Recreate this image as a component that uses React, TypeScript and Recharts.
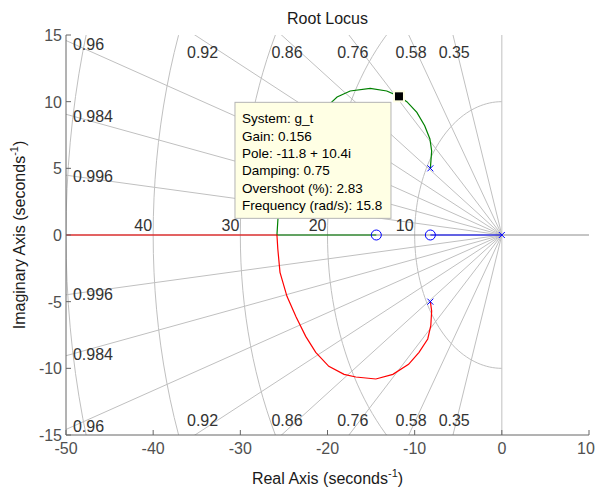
import React from "react";
import { ComposedChart, Line, Scatter, XAxis, YAxis } from "recharts";

const realTicks = [-50, -40, -30, -20, -10, 0, 10];
const imagTicks = [-15, -10, -5, 0, 5, 10, 15];

// sgrid values
const dampingRatios = [0.35, 0.58, 0.76, 0.86, 0.92, 0.96, 0.984, 0.996];
const naturalFreqs = [10, 20, 30, 40, 50];
const labeledFreqs = [10, 20, 30, 40];

const poles = [
  { x: 0, y: 0 },
  { x: -8.2, y: 5 },
  { x: -8.2, y: -5 },
];
const zeros = [
  { x: -8.2, y: 0 },
  { x: -14.4, y: 0 },
];

// green branch (upper complex pole -> break-in -> zero at -14.4)
const upperBranch = [
  { x: -8.2, y: 5.0 }, { x: -8.05, y: 6.3 }, { x: -8.25, y: 7.2 }, { x: -8.85, y: 8.2 },
  { x: -9.75, y: 9.2 }, { x: -10.9, y: 10.0 }, { x: -11.8, y: 10.4 }, { x: -13.2, y: 10.8 },
  { x: -15.1, y: 11.0 }, { x: -17.4, y: 10.8 }, { x: -18.9, y: 10.35 }, { x: -19.8, y: 9.8 },
  { x: -21.3, y: 8.8 }, { x: -22.5, y: 7.6 }, { x: -23.6, y: 6.15 }, { x: -24.7, y: 4.6 },
  { x: -25.5, y: 2.8 }, { x: -25.7, y: 1.05 }, { x: -25.8, y: 0 }, { x: -14.4, y: 0 },
];

// red branch (lower complex pole -> break-in -> -inf)
const lowerBranch = [
  { x: -8.2, y: -5.0 }, { x: -8.05, y: -5.7 }, { x: -8.15, y: -6.8 }, { x: -8.5, y: -7.8 },
  { x: -9.5, y: -8.8 }, { x: -10.7, y: -9.7 }, { x: -12.5, y: -10.45 }, { x: -14.45, y: -10.8 },
  { x: -16.75, y: -10.65 }, { x: -18.1, y: -10.45 }, { x: -19.85, y: -9.85 }, { x: -21.35, y: -8.8 },
  { x: -22.5, y: -7.6 }, { x: -23.6, y: -6.15 }, { x: -24.65, y: -4.6 }, { x: -25.45, y: -2.8 },
  { x: -25.7, y: -1.05 }, { x: -25.8, y: 0 }, { x: -50, y: 0 },
];

// blue branch (pole at origin -> zero at -8.2)
const realBranch = [
  { x: 0, y: 0 },
  { x: -8.2, y: 0 },
];

const dataTipPoint = [{ x: -11.8, y: 10.4 }];
const dataTipLines = [
  "System: g_t",
  "Gain: 0.156",
  "Pole: -11.8 + 10.4i",
  "Damping: 0.75",
  "Overshoot (%): 2.83",
  "Frequency (rad/s): 15.8",
];

const font = "'Liberation Sans', Arial, Helvetica, sans-serif";
const axisColor = "#666666";
const tickColor = "#505050";
const gridColor = "#c0c0c0";
const labelColor = "#333333";

// grid geometry
const arcs = naturalFreqs.map((r) => {
  const pts: { x: number; y: number }[] = [];
  for (let a = 90; a <= 270; a += 2) {
    const t = (a * Math.PI) / 180;
    pts.push({ x: r * Math.cos(t), y: r * Math.sin(t) });
  }
  return pts;
});

const rayLines: { x: number; y: number }[][] = [];
dampingRatios.forEach((z) => {
  const s = Math.sqrt(1 - z * z);
  rayLines.push([{ x: 0, y: 0 }, { x: -80 * z, y: 80 * s }]);
  rayLines.push([{ x: 0, y: 0 }, { x: -80 * z, y: -80 * s }]);
});
rayLines.push([{ x: 0, y: -15 }, { x: 0, y: 15 }]);
const realAxisLine = [{ x: -50, y: 0 }, { x: 10, y: 0 }];

const dampingLabels: { x: number; y: number; text: string; side: string }[] = [];
dampingRatios.forEach((z) => {
  const s = Math.sqrt(1 - z * z);
  const tLeft = (50 - 0.8) / z;
  const tTop = (15 - 0.375) / s;
  if (tLeft < tTop) {
    dampingLabels.push({ x: -tLeft * z, y: tLeft * s, text: String(z), side: "left" });
    dampingLabels.push({ x: -tLeft * z, y: -tLeft * s, text: String(z), side: "left" });
  } else {
    dampingLabels.push({ x: -tTop * z, y: tTop * s, text: String(z), side: "top" });
    dampingLabels.push({ x: -tTop * z, y: -tTop * s, text: String(z), side: "bottom" });
  }
});
const freqLabels = labeledFreqs.map((r) => ({ x: -r, y: 0, text: String(r) }));

const BottomTick = (props: any) => {
  const { x, y, payload } = props;
  // last label sits at the right edge, nudge it so it stays on the page
  const tx = payload.value === realTicks[realTicks.length - 1] ? x - 3 : x;
  return (
    <g>
      <line x1={x} y1={y} x2={x} y2={y - 5} stroke={axisColor} />
      <text x={tx} y={y + 19} textAnchor="middle" fontSize={16} fill={tickColor} fontFamily={font}>
        {payload.value}
      </text>
    </g>
  );
};
const TopTick = (props: any) => {
  const { x, y } = props;
  return <line x1={x} y1={y} x2={x} y2={y + 5} stroke={axisColor} />;
};
const LeftTick = (props: any) => {
  const { x, y, payload } = props;
  return (
    <g>
      <line x1={x} y1={y} x2={x + 5} y2={y} stroke={axisColor} />
      <text x={x - 4} y={y + 6} textAnchor="end" fontSize={16} fill={tickColor} fontFamily={font}>
        {payload.value}
      </text>
    </g>
  );
};
const RightTick = (props: any) => {
  const { x, y } = props;
  return <line x1={x} y1={y} x2={x - 5} y2={y} stroke={axisColor} />;
};

const PoleMark = (p: any) => (
  <g stroke="#0000ff" strokeWidth={1}>
    <line x1={p.cx - 3} y1={p.cy - 3} x2={p.cx + 3} y2={p.cy + 3} />
    <line x1={p.cx - 3} y1={p.cy + 3} x2={p.cx + 3} y2={p.cy - 3} />
  </g>
);
const ZeroMark = (p: any) => <circle cx={p.cx} cy={p.cy} r={5} fill="none" stroke="#0000ff" strokeWidth={1} />;

const DampingText = (p: any) => {
  const side = p.payload.side;
  let anchor = "middle";
  let dy = 0;
  if (side === "left") {
    anchor = "start";
    dy = 6;
  } else if (side === "top") {
    dy = 18;
  } else {
    dy = -4;
  }
  return (
    <text x={p.cx} y={p.cy + dy} textAnchor={anchor} fontSize={16} fill={labelColor} fontFamily={font}>
      {p.payload.text}
    </text>
  );
};
const FreqText = (p: any) => (
  <text x={p.cx - 1} y={p.cy - 4} textAnchor="end" fontSize={16} fill={labelColor} fontFamily={font}>
    {p.payload.text}
  </text>
);

const DataTip = (p: any) => {
  const { cx, cy } = p;
  return (
    <g>
      <rect x={cx - 164} y={cy + 6} width={156} height={116} fill="#ffffe4" stroke="#b4b4b4" />
      {dataTipLines.map((t, i) => (
        <text key={t} x={cx - 157} y={cy + 27 + i * 17.3} fontSize={13.5} fill="#000" fontFamily={font}>
          {t}
        </text>
      ))}
      <rect x={cx - 5} y={cy - 5} width={10} height={10} fill="#000" stroke="#ffffe4" strokeWidth={2} />
    </g>
  );
};

export default function App() {
  return (
    <div style={{ position: "absolute", left: 0, top: 0, width: 596, height: 490, background: "#fff" }}>
      <ComposedChart width={596} height={490} margin={{ top: 35, right: 7, bottom: 0, left: 0 }}>
        <XAxis
          dataKey="x"
          type="number"
          domain={[-50, 10]}
          ticks={realTicks}
          interval={0}
          allowDataOverflow
          height={55}
          tickSize={0}
          tickMargin={0}
          tickLine={false}
          tick={<BottomTick />}
          axisLine={{ stroke: axisColor }}
        />
        <XAxis
          xAxisId="top"
          orientation="top"
          dataKey="x"
          type="number"
          domain={[-50, 10]}
          ticks={realTicks}
          interval={0}
          allowDataOverflow
          height={0}
          tickSize={0}
          tickMargin={0}
          tickLine={false}
          tick={<TopTick />}
          axisLine={{ stroke: axisColor }}
        />
        <YAxis
          dataKey="y"
          type="number"
          domain={[-15, 15]}
          ticks={imagTicks}
          interval={0}
          allowDataOverflow
          width={66}
          tickSize={0}
          tickMargin={0}
          tickLine={false}
          tick={<LeftTick />}
          axisLine={{ stroke: axisColor }}
        />
        <YAxis
          yAxisId="right"
          orientation="right"
          dataKey="y"
          type="number"
          domain={[-15, 15]}
          ticks={imagTicks}
          interval={0}
          allowDataOverflow
          width={0}
          tickSize={0}
          tickMargin={0}
          tickLine={false}
          tick={<RightTick />}
          axisLine={{ stroke: axisColor }}
        />

        {arcs.map((pts, i) => (
          <Line key={"arc" + i} data={pts} dataKey="y" stroke={gridColor} strokeWidth={1} dot={false} activeDot={false} isAnimationActive={false} />
        ))}
        {rayLines.map((pts, i) => (
          <Line key={"ray" + i} data={pts} dataKey="y" stroke={gridColor} strokeWidth={1} dot={false} activeDot={false} isAnimationActive={false} />
        ))}
        <Line data={realAxisLine} dataKey="y" stroke="#8c8c8c" strokeWidth={1} dot={false} activeDot={false} isAnimationActive={false} />

        <Line data={realBranch} dataKey="y" stroke="#0000ff" strokeWidth={1.2} dot={false} activeDot={false} isAnimationActive={false} />
        <Line data={upperBranch} dataKey="y" stroke="#008000" strokeWidth={1.2} dot={false} activeDot={false} isAnimationActive={false} />
        <Line data={lowerBranch} dataKey="y" stroke="#ff0000" strokeWidth={1.2} dot={false} activeDot={false} isAnimationActive={false} />

        <Scatter data={poles} shape={PoleMark} isAnimationActive={false} />
        <Scatter data={zeros} shape={ZeroMark} isAnimationActive={false} />
        <Scatter data={dampingLabels} shape={DampingText} isAnimationActive={false} />
        <Scatter data={freqLabels} shape={FreqText} isAnimationActive={false} />
        <Scatter data={dataTipPoint} shape={DataTip} isAnimationActive={false} />
      </ComposedChart>
      <svg width={596} height={490} style={{ position: "absolute", left: 0, top: 0, pointerEvents: "none" }}>
        <text x={327.5} y={24} textAnchor="middle" fontSize={16} fill="#1a1a1a" fontFamily={font}>
          Root Locus
        </text>
        <text x={327.5} y={484} textAnchor="middle" fontSize={16} fill="#1a1a1a" fontFamily={font}>
          Real Axis (seconds
          <tspan fontSize={11} dy={-7}>-1</tspan>
          <tspan dy={7}>)</tspan>
        </text>
        <text
          x={25}
          y={235}
          textAnchor="middle"
          fontSize={16}
          fill="#1a1a1a"
          fontFamily={font}
          transform="rotate(-90 25 235)"
        >
          Imaginary Axis (seconds
          <tspan fontSize={11} dy={-7}>-1</tspan>
          <tspan dy={7}>)</tspan>
        </text>
      </svg>
    </div>
  );
}
